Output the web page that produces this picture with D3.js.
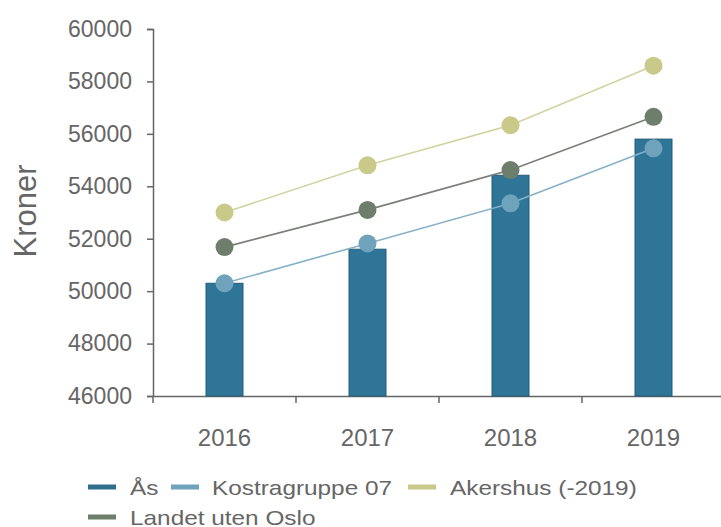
<!DOCTYPE html>
<html>
<head>
<meta charset="utf-8">
<script src="https://cdn.jsdelivr.net/npm/d3@7"></script>
<style>
  body { margin: 0; background: #fff; }
  text { font-family: "Liberation Sans", Arial, sans-serif; fill: #666; }
</style>
</head>
<body>
<script>
var years = ["2016", "2017", "2018", "2019"];
var aas = [50300, 51600, 54420, 55800];
var kostra = [50300, 51820, 53350, 55450];
var akershus = [53000, 54800, 56330, 58600];
var landet = [51680, 53100, 54620, 56650];
var yTicks = [46000, 48000, 50000, 52000, 54000, 56000, 58000, 60000];

var width = 721, height = 527;
var svg = d3.select("body").append("svg")
    .attr("width", width)
    .attr("height", height);

var x = d3.scaleBand()
    .domain(years)
    .range([153, 725]);

var y = d3.scaleLinear()
    .domain([46000, 60000])
    .range([396, 29]);

// axes
var yAxis = svg.append("g")
    .attr("transform", "translate(153,0)")
    .call(d3.axisLeft(y).tickValues(yTicks).tickSize(6).tickPadding(15).tickFormat(d3.format("d")));
yAxis.select(".domain").attr("stroke", "#666").attr("stroke-width", 1.5);
yAxis.selectAll(".tick line").attr("stroke", "#666").attr("stroke-width", 1.5);
yAxis.selectAll("text").style("font-size", "23px").attr("fill", "#666");

var xAxis = svg.append("g")
    .attr("transform", "translate(0,396)")
    .call(d3.axisBottom(x).tickSize(0).tickPadding(33));
xAxis.select(".domain").attr("stroke", "#666").attr("stroke-width", 1.5);
xAxis.selectAll("text").style("font-size", "24px").attr("fill", "#666");

// band boundary ticks
svg.append("g").selectAll("line")
    .data(years)
    .enter()
    .append("line")
      .attr("x1", d => x(d))
      .attr("x2", d => x(d))
      .attr("y1", 396)
      .attr("y2", 403)
      .attr("stroke", "#666")
      .attr("stroke-width", 1.5);

svg.append("text")
    .attr("transform", "translate(36,211) rotate(-90)")
    .attr("text-anchor", "middle")
    .style("font-size", "31px")
    .text("Kroner");

// bars
var barW = 37;
svg.append("g").selectAll("rect")
    .data(aas)
    .enter()
    .append("rect")
      .attr("x", (d, i) => x(years[i]) + x.bandwidth() / 2 - barW / 2)
      .attr("y", d => y(d))
      .attr("width", barW)
      .attr("height", d => 396 - y(d))
      .attr("fill", "#2e7597")
      .attr("stroke", "#225c78")
      .attr("stroke-width", 1);

var series = [
  { name: "Kostragruppe 07", values: kostra, line: "#86b1c6", dot: "#6fa2bb" },
  { name: "Akershus (-2019)", values: akershus, line: "#d3d3a0", dot: "#c9c98a" },
  { name: "Landet uten Oslo", values: landet, line: "#7b7f79", dot: "#6d7f6b" }
];

var line = d3.line()
    .x((d, i) => x(years[i]) + x.bandwidth() / 2)
    .y(d => y(d));

series.forEach(s => {
  svg.append("path")
      .datum(s.values)
      .attr("d", line)
      .attr("fill", "none")
      .attr("stroke", s.line)
      .attr("stroke-width", 1.6);
  svg.append("g").selectAll("circle")
      .data(s.values)
      .enter()
      .append("circle")
        .attr("cx", (d, i) => x(years[i]) + x.bandwidth() / 2)
        .attr("cy", d => y(d))
        .attr("r", 9)
        .attr("fill", s.dot);
});

// legend
var legend = [
  { name: "Ås", color: "#2e6f8c", x: 88, tx: 130, y: 487 },
  { name: "Kostragruppe 07", color: "#6fa2bb", x: 171, tx: 212, y: 487 },
  { name: "Akershus (-2019)", color: "#c9c98a", x: 408, tx: 450, y: 487 },
  { name: "Landet uten Oslo", color: "#6d7f6b", x: 88, tx: 130, y: 517 }
];
var lg = svg.append("g").selectAll("g")
    .data(legend)
    .enter()
    .append("g");
lg.append("rect")
    .attr("x", d => d.x)
    .attr("y", d => d.y - 2.5)
    .attr("width", 28)
    .attr("height", 5)
    .attr("fill", d => d.color);
lg.append("text")
    .attr("transform", d => `translate(${d.tx},${d.y}) scale(1.16,1)`)
    .attr("dy", "0.36em")
    .style("font-size", "21px")
    .text(d => d.name);
</script>
</body>
</html>
